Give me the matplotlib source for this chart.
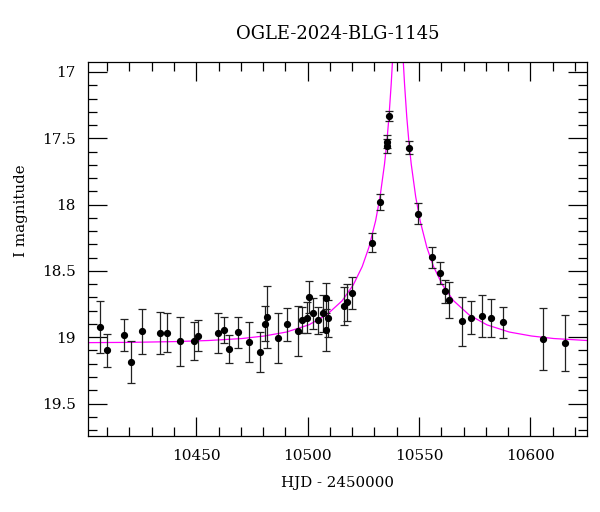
import matplotlib
matplotlib.use('Agg')
import matplotlib.pyplot as plt
from matplotlib.ticker import MultipleLocator

# photometry
hjd = [10406.6, 10409.8, 10417.7, 10420.7, 10425.6, 10433.6, 10436.7, 10442.7, 10448.8, 10450.8,
       10459.6, 10462.6, 10464.7, 10468.6, 10473.7, 10478.5, 10480.7, 10481.7, 10486.7, 10490.6,
       10495.5, 10497.6, 10499.6, 10500.4, 10502.5, 10504.6, 10507.0, 10508.3, 10508.4, 10509.2,
       10516.4, 10517.6, 10519.7, 10528.7, 10532.6, 10535.5, 10535.5, 10536.5, 10545.5, 10549.6,
       10555.7, 10559.4, 10561.5, 10563.4, 10569.4, 10573.4, 10578.4, 10582.4, 10587.5, 10605.6,
       10615.3]
mag = [18.923, 19.099, 18.983, 19.185, 18.956, 18.968, 18.966, 19.029, 19.029, 18.989,
       18.968, 18.948, 19.089, 18.963, 19.038, 19.112, 18.900, 18.848, 19.004, 18.903,
       18.951, 18.870, 18.853, 18.697, 18.820, 18.873, 18.820, 18.707, 18.946, 18.857,
       18.765, 18.737, 18.669, 18.287, 17.980, 17.526, 17.558, 17.330, 17.571, 18.069,
       18.397, 18.516, 18.652, 18.717, 18.880, 18.853, 18.840, 18.853, 18.888, 19.016,
       19.046]
err = [0.195, 0.126, 0.121, 0.160, 0.172, 0.158, 0.149, 0.185, 0.140, 0.117,
       0.150, 0.097, 0.109, 0.116, 0.151, 0.151, 0.132, 0.235, 0.187, 0.122,
       0.189, 0.100, 0.115, 0.120, 0.119, 0.100, 0.140, 0.113, 0.157, 0.140,
       0.142, 0.140, 0.121, 0.073, 0.059, 0.050, 0.050, 0.039, 0.049, 0.078,
       0.079, 0.082, 0.087, 0.137, 0.184, 0.124, 0.162, 0.144, 0.117, 0.234,
       0.210]

# model curve, values
model_hjd = [10400.5, 10420.5, 10440.5, 10455.5, 10470.5, 10480.5, 10490.5, 10500.5, 10508.5,
             10515.5, 10520.5, 10524.5, 10527.5, 10530.5, 10532.5, 10534.5, 10535.5, 10536.5,
             10537.5, 10538.0, 10538.5, 10540.5, 10542.5, 10543.0, 10543.5, 10544.5, 10545.5,
             10546.5, 10548.5, 10550.5, 10553.5, 10556.5, 10560.5, 10565.5, 10572.5, 10580.5,
             10590.5, 10600.5, 10610.5, 10625.5, 10640.5]
model_mag = [19.041, 19.039, 19.033, 19.025, 19.010, 18.991, 18.961, 18.907, 18.832,
             18.725, 18.605, 18.467, 18.322, 18.123, 17.941, 17.695, 17.536, 17.340,
             17.092, 16.943, 16.773, 16.131, 16.773, 16.943, 17.092, 17.340, 17.536,
             17.695, 17.941, 18.123, 18.322, 18.467, 18.605, 18.725, 18.832, 18.907,
             18.961, 18.991, 19.010, 19.025, 19.033]

title = 'OGLE-2024-BLG-1145'

plt.rcParams['font.family'] = ['DejaVu Serif']
plt.rcParams['font.size'] = 10.8

fig = plt.figure(figsize=(6, 5.12), dpi=100)
ax = fig.add_axes([88 / 600, 76 / 512, 499 / 600, 373.7 / 512])

ax.plot(model_hjd, model_mag, color='#ff00ff', lw=0.9, zorder=2)
ax.errorbar(hjd, mag, yerr=err, fmt='o', color='black', ms=4.2,
            ecolor='#222222', elinewidth=0.9, capsize=3, capthick=0.9, zorder=3)

ax.set_xlim(10401.4, 10625.4)
ax.set_ylim(19.745, 16.927)
ax.xaxis.set_major_locator(MultipleLocator(50))
ax.xaxis.set_minor_locator(MultipleLocator(10))
ax.yaxis.set_major_locator(MultipleLocator(0.5))
ax.yaxis.set_minor_locator(MultipleLocator(0.1))
ax.yaxis.set_major_formatter(plt.FuncFormatter(lambda v, p: '{:g}'.format(v)))
ax.tick_params(which='both', direction='in', top=True, right=True, width=0.9,
               labelsize=11)
ax.tick_params(which='major', length=13.5, pad=9)
ax.tick_params(which='minor', length=6.8)
for s in ax.spines.values():
    s.set_linewidth(0.9)

ax.set_xlabel('HJD - 2450000', labelpad=10)
ax.set_ylabel('I magnitude')
ax.yaxis.set_label_coords(-0.12, 0.602)
ax.set_title(title, pad=17)

fig.savefig('out.png', dpi=100)
